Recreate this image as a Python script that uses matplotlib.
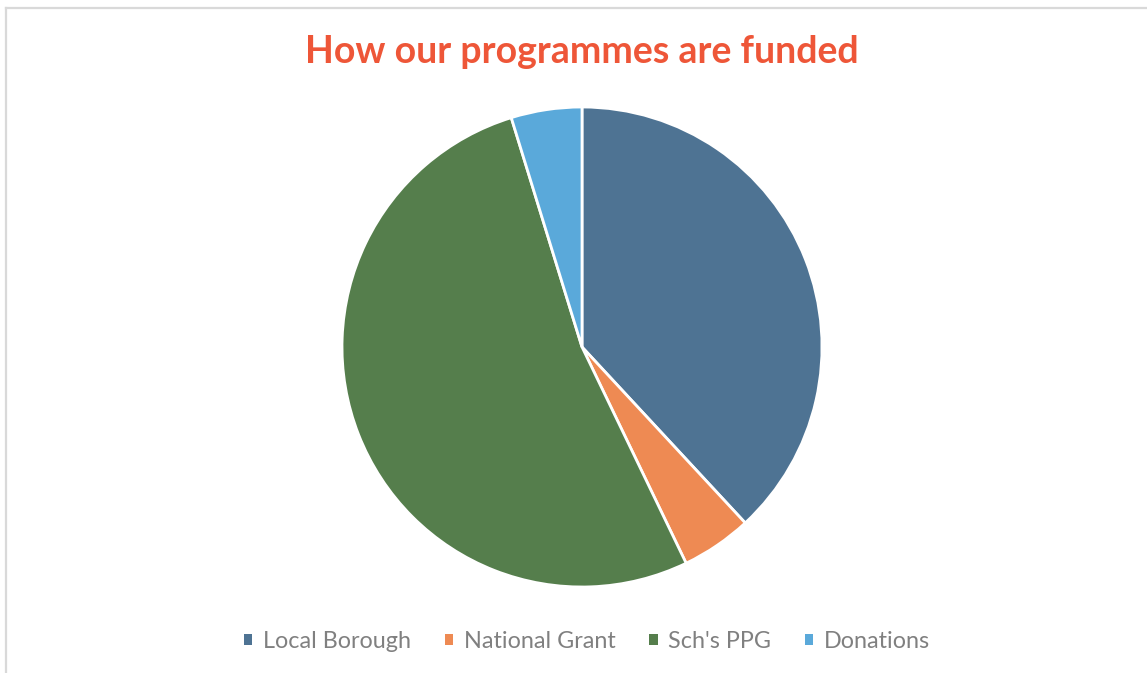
import matplotlib.pyplot as plt
from matplotlib.patches import Rectangle
from matplotlib.lines import Line2D

# funding sources (clockwise from 12 o'clock)
sources = ["Local Borough", "National Grant", "Sch's PPG", "Donations"]
amounts = [800, 100, 1100, 100]
colors = ["#4E7393", "#EE8A53", "#557E4C", "#5AA9DA"]

W, H = 1147, 673
fig = plt.figure(figsize=(W / 100, H / 100), dpi=100)
fig.patch.set_facecolor("white")

# light gray chart border (only left/top visible in the crop)
fig.add_artist(Line2D([6 / W, 6 / W], [0, 1 - 8 / H], transform=fig.transFigure,
                      color="#d9d9d9", lw=1.6))
fig.add_artist(Line2D([6 / W, 1], [1 - 8 / H, 1 - 8 / H], transform=fig.transFigure,
                      color="#d9d9d9", lw=1.6))

# pie axes: centre (582, 347) px, radius 240 px
cx, cy, r = 582, 347, 240
ax = fig.add_axes([(cx - r) / W, (H - cy - r) / H, 2 * r / W, 2 * r / H])
wedges, _ = ax.pie(amounts, colors=colors, startangle=90, counterclock=False,
                   radius=1, wedgeprops=dict(edgecolor="white", linewidth=2.0))
ax.set_xlim(-1, 1)
ax.set_ylim(-1, 1)
ax.set_aspect("equal")
ax.axis("off")

fig.text(cx / W, 1 - 52 / H, "How our programmes are funded", ha="center", va="center",
         fontsize=27, fontweight="bold", color="#EE5638", family="Lato")

handles = [Rectangle((0, 0), 1, 1, facecolor=c, edgecolor="none") for c in colors]
fig.legend(handles, sources, loc="center", bbox_to_anchor=(587 / W, 1 - 641 / H),
           ncol=4, frameon=False, labelcolor="#808080",
           handlelength=0.36, handleheight=0.36, handletextpad=0.45, columnspacing=1.45,
           prop={"family": "Lato", "size": 16.8})

fig.savefig("out.png", dpi=100)
